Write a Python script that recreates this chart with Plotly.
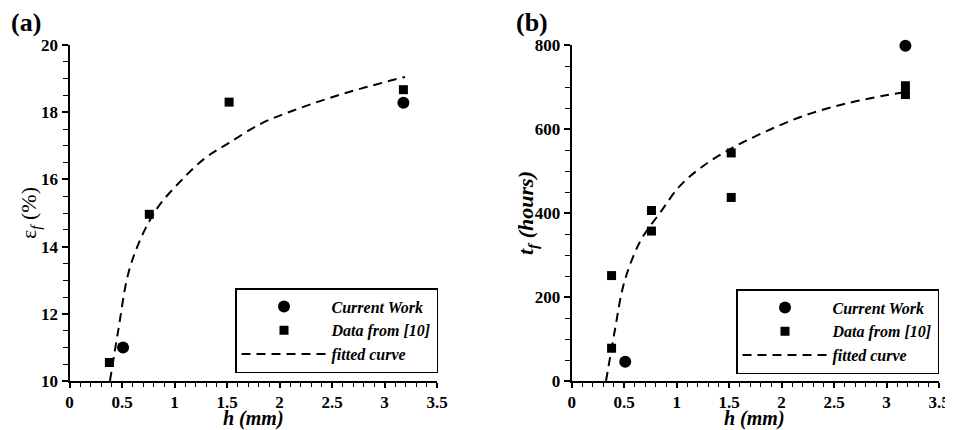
import plotly.graph_objects as go

# ---- Panel (a): failure strain ----
cw_h_a = [0.51, 3.18]
cw_eps = [11.0, 18.28]
lit_h_a = [0.38, 0.76, 1.52, 3.18]
lit_eps = [10.55, 14.96, 18.3, 18.67]
fit_h_a = [0.385, 0.465, 0.56, 0.687, 0.846, 1.068, 1.29, 1.512, 1.83, 2.148, 2.465, 2.783, 3.195]
fit_eps = [10.0, 11.52, 13.2, 14.3, 15.19, 15.98, 16.63, 17.07, 17.67, 18.07, 18.41, 18.71, 19.05]

# ---- Panel (b): time to failure ----
cw_h_b = [0.51, 3.18]
cw_t = [46, 798]
lit_h_b = [0.38, 0.38, 0.76, 0.76, 1.52, 1.52, 3.18, 3.18]
lit_t = [251, 78, 406, 357, 543, 437, 703, 682]
fit_h_b = [0.327, 0.412, 0.49, 0.587, 0.682, 0.84, 1.03, 1.253, 1.539, 1.857, 2.206, 2.587, 2.968, 3.158]
fit_t = [0, 122, 225, 297, 345, 400, 464, 512, 556, 595, 631, 659, 679, 687]

x_ticks = [0, 0.5, 1, 1.5, 2, 2.5, 3, 3.5]
x_ticklabels = ["0", "0.5", "1", "1.5", "2", "2.5", "3", "3.5"]
legend_names = ["Current Work", "Data from [10]", "fitted curve"]

FONT = "Liberation Serif"
# page body has an 8px margin: figure is drawn 8px in from the window corner
W, H, OFF = 945, 422, 8
def PX(px):
    return (px - OFF) / W
def PY(py):
    return 1 - (py - OFF) / H

fig = go.Figure()

def add_panel(xa, ya, leg, hc, yc, hl, yl, hf, yf):
    fig.add_trace(go.Scatter(x=hc, y=yc, mode="markers", name=legend_names[0],
                             marker=dict(symbol="circle", size=12, color="black"),
                             xaxis=xa, yaxis=ya, legend=leg, cliponaxis=False))
    fig.add_trace(go.Scatter(x=hl, y=yl, mode="markers", name=legend_names[1],
                             marker=dict(symbol="square", size=9, color="black"),
                             xaxis=xa, yaxis=ya, legend=leg, cliponaxis=False))
    fig.add_trace(go.Scatter(x=hf, y=yf, mode="lines", name=legend_names[2],
                             line=dict(color="black", width=2, dash="9px,6px", shape="spline"),
                             xaxis=xa, yaxis=ya, legend=leg))

add_panel("x", "y", "legend", cw_h_a, cw_eps, lit_h_a, lit_eps, fit_h_a, fit_eps)
add_panel("x2", "y2", "legend2", cw_h_b, cw_t, lit_h_b, lit_t, fit_h_b, fit_t)

tickfont = dict(family=FONT, size=17, color="black", weight="bold")
titlefont = dict(family=FONT, size=20, color="black", weight="bold", style="italic")

def xaxis(domain, anchor):
    return dict(domain=domain, anchor=anchor, range=[0, 3.5], tickvals=x_ticks, ticktext=x_ticklabels,
                showgrid=False, zeroline=False, showline=True, linecolor="black", linewidth=2,
                ticks="outside", ticklen=5, tickwidth=1.5, tickcolor="black", tickfont=tickfont,
                automargin=False,
                minor=dict(dtick=0.1, ticks="outside", ticklen=4, tickwidth=1, tickcolor="black"))

def yaxis(domain, anchor, rng, dtick, mdtick):
    return dict(domain=domain, anchor=anchor, range=rng, dtick=dtick, tick0=0,
                showgrid=False, zeroline=False, showline=True, linecolor="black", linewidth=2,
                ticks="outside", ticklen=6, tickwidth=1.5, tickcolor="black", tickfont=tickfont,
                automargin=False,
                minor=dict(dtick=mdtick, ticks="outside", ticklen=5, tickwidth=1, tickcolor="black"))

ydom = [PY(381), PY(45)]
legfont = dict(family=FONT, size=16, color="black", weight="bold", style="italic")

def ann(text, x, y, font, angle=0):
    return dict(text=text, x=PX(x), y=PY(y), xref="paper", yref="paper", xanchor="center",
                yanchor="middle", showarrow=False, font=font, textangle=angle)

fig.update_layout(
    width=W, height=H,
    margin=dict(l=0, r=0, t=0, b=0),
    paper_bgcolor="white", plot_bgcolor="white",
    font=dict(family=FONT, color="black"),
    xaxis=xaxis([PX(69.5), PX(437)], "y"),
    yaxis=yaxis(ydom, "x", [10, 20], 2, 0.5),
    xaxis2=xaxis([PX(571.7), PX(939)], "y2"),
    yaxis2=yaxis(ydom, "x2", [0, 800], 200, 50),
    legend=dict(x=PX(438), y=PY(373), xanchor="right", yanchor="bottom",
                bgcolor="white", bordercolor="black", borderwidth=1.5, font=legfont,
                itemwidth=85, tracegroupgap=0),
    legend2=dict(x=PX(939), y=PY(374), xanchor="right", yanchor="bottom",
                 bgcolor="white", bordercolor="black", borderwidth=1.5, font=legfont,
                 itemwidth=85, tracegroupgap=0),
    annotations=[
        ann("(a)", 26, 22, dict(family=FONT, size=26, color="black", weight="bold")),
        ann("(b)", 532, 22, dict(family=FONT, size=26, color="black", weight="bold")),
        ann("h (mm)", 253, 418, titlefont),
        ann("h (mm)", 754, 418, titlefont),
        ann("ε<sub><i>f</i></sub> (%)", 30, 213, dict(family=FONT, size=22, color="black"), -90),
        ann("t<sub>f</sub> (hours)", 527, 213, dict(family=FONT, size=22, color="black", weight="bold", style="italic"), -90),
    ],
)

fig.write_html("out.html")
